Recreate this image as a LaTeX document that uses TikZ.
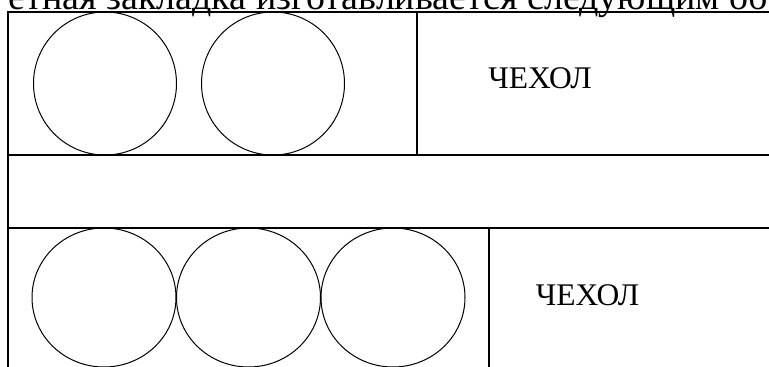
\documentclass[tikz,border=0pt]{standalone}
\usepackage{fontspec}
\setmainfont{Liberation Serif}
\usetikzlibrary{shapes.geometric}
\begin{document}
\begin{tikzpicture}[x=1pt, y=-1pt, line width=1.4pt,
  roll/.style={draw, line width=1pt, inner sep=0pt},
  covertext/.style={font=\fontsize{31.5}{36}\selectfont}]
  \useasboundingbox (0,0) rectangle (769,367);
  % Heading (cut at the top)
  \node[anchor=base west, inner sep=0pt, font=\fontsize{38}{44}\selectfont] (head) at (8,9.5)
    {етная закладка изготавливается следующим об};
  % Frames
  \draw (8,380) -- (8,12) -- (780,12);
  \draw (8,155) -- (780,155);
  \draw (8,228) -- (780,228);
  \draw (417,12) -- (417,155);
  \draw (489,228) -- (489,380);
  % Top row
  \foreach \x/\n in {105/a,273/b}
    \node[roll, circle, minimum size=143pt] (top\n) at (\x,83.5) {};
  \node[covertext] (coverA) at (540,78.5) {ЧЕХОЛ};
  % Bottom row
  \foreach \x/\n in {104/a,248.5/b,393/c}
    \node[roll, ellipse, minimum width=144pt, minimum height=139pt] (bot\n) at (\x,297.5) {};
  \node[covertext] (coverB) at (587.5,295.5) {ЧЕХОЛ};
\end{tikzpicture}
\end{document}
